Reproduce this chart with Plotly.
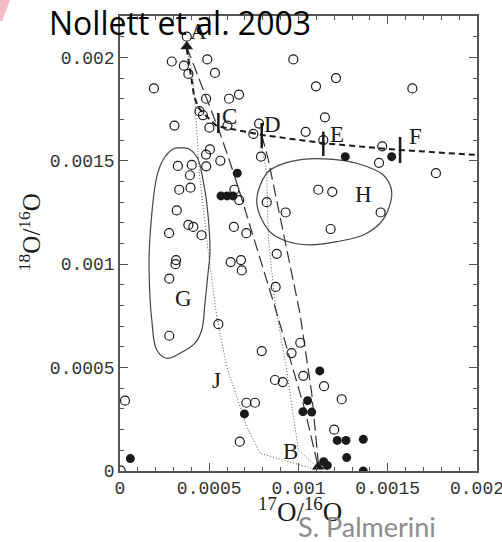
import plotly.graph_objects as go

# --- grain measurements: 17O/16O (x) and 18O/16O (y) ---
open_x = [0.000374, 0.000290, 0.000489, 0.000358, 0.000383, 0.000532, 0.000190, 0.000482,
          0.000611, 0.000667, 0.000445, 0.000465, 0.000305, 0.000501, 0.000602, 0.000747,
          0.000504, 0.000482, 0.000562, 0.000324, 0.000402, 0.000483, 0.000392, 0.000332,
          0.000395, 0.000641, 0.000668, 0.000318, 0.000383, 0.000411, 0.000275, 0.000457,
          0.000638, 0.000708, 0.000314, 0.000311, 0.000276, 0.000620, 0.000678, 0.000682,
          0.000551, 0.000276, 0.000028, 0.000708, 0.000756, 0.000671, 0.000971, 0.001098,
          0.001210, 0.001638, 0.001148, 0.000779, 0.001040, 0.001139, 0.001469, 0.000790,
          0.001451, 0.001770, 0.001111, 0.001189, 0.001460, 0.001180, 0.000822, 0.000928,
          0.000878, 0.000872, 0.001010, 0.000961, 0.000794, 0.000868, 0.000912, 0.001027,
          0.001143, 0.001242, 0.001200, 0.000004]
open_y = [0.00210, 0.00198, 0.00199, 0.00196, 0.00192, 0.001925, 0.00185, 0.00180,
          0.00180, 0.00182, 0.00174, 0.00172, 0.00167, 0.00166, 0.00167, 0.00163,
          0.001555, 0.00153, 0.00150, 0.001475, 0.00148, 0.001473, 0.00143, 0.00136,
          0.00137, 0.00136, 0.00131, 0.00126, 0.00119, 0.00118, 0.00115, 0.00114,
          0.00118, 0.00115, 0.00102, 0.00100, 0.00093, 0.00101, 0.00102, 0.00097,
          0.00071, 0.000654, 0.00034, 0.00033, 0.00033, 0.000142, 0.00199, 0.00186,
          0.00190, 0.00185, 0.00171, 0.00168, 0.00164, 0.00160, 0.00157, 0.00152,
          0.00149, 0.00144, 0.00136, 0.00135, 0.00125, 0.00117, 0.00130, 0.00125,
          0.00105, 0.00089, 0.00062, 0.00057, 0.00058, 0.00044, 0.00043, 0.00046,
          0.00041, 0.000347, 0.00020, 0.000002]

filled_x = [0.000657, 0.000566, 0.000600, 0.000633, 0.001262, 0.001522, 0.000697, 0.000058,
            0.001119, 0.001051, 0.001025, 0.001074, 0.001217, 0.001266, 0.001363, 0.001270,
            0.001141, 0.001161, 0.001363]
filled_y = [0.00144, 0.00133, 0.00133, 0.00133, 0.00152, 0.00152, 0.000276, 0.000060,
            0.000484, 0.00034, 0.000287, 0.000285, 0.000148, 0.000148, 0.000153, 0.000065,
            0.000045, 0.000027, 0.000000]

# end points of the model paths
tri_x = [0.000374, 0.001110]
tri_y = [0.002052, 0.000020]

# envelope mixing path A -> C -> D -> E -> F
mix_x = [0.000374, 0.000402, 0.000415, 0.000439, 0.000482, 0.000542, 0.000794, 0.001139, 0.001569, 0.002000]
mix_y = [0.002041, 0.001870, 0.001813, 0.001757, 0.001717, 0.001668, 0.001625, 0.001585, 0.001552, 0.001528]

# marks on the mixing path (x, y_low, y_high)
mark_x = [0.000551, 0.000794, 0.001139, 0.001569]
mark_lo = [0.001634, 0.001562, 0.001523, 0.001489]
mark_hi = [0.001731, 0.001683, 0.001641, 0.001615]

# processing paths towards B
lda_x = [0.000374, 0.000482, 0.000560, 0.000616, 0.000672, 0.000868, 0.001036, 0.001109]
lda_y = [0.002050, 0.001804, 0.001634, 0.001494, 0.001344, 0.000793, 0.000295, 0.000024]
ldb_x = [0.000794, 0.000831, 0.001008, 0.001074, 0.001111]
ldb_y = [0.001625, 0.001504, 0.000763, 0.000377, 0.000039]
dot_j_x = [0.000374, 0.000409, 0.000431, 0.000444, 0.000495, 0.000542, 0.000598, 0.000710, 0.000784, 0.001104]
dot_j_y = [0.002050, 0.001905, 0.001634, 0.001441, 0.001054, 0.000746, 0.000504, 0.000214, 0.000086, 0.000005]
dot_d_x = [0.000794, 0.000822, 0.000831, 0.000868, 0.000934, 0.000999, 0.001104]
dot_d_y = [0.001562, 0.001441, 0.001132, 0.000812, 0.000488, 0.000102, 0.000019]

# grain group outlines
g_x = [0.000465, 0.000448, 0.000430, 0.000381, 0.000336, 0.000297, 0.000241, 0.000206, 0.000168,
       0.000163, 0.000178, 0.000206, 0.000262, 0.000336, 0.000420, 0.000458, 0.000476, 0.000495,
       0.000504, 0.000486, 0.000465]
g_y = [0.001407, 0.001480, 0.001520, 0.001559, 0.001562, 0.001557, 0.001504, 0.001422, 0.001132,
       0.000972, 0.000730, 0.000585, 0.000545, 0.000569, 0.000618, 0.000682, 0.000812, 0.000972,
       0.001054, 0.001296, 0.001407]
h_x = [0.000822, 0.000896, 0.001025, 0.001193, 0.001326, 0.001475, 0.001522, 0.001494, 0.001457,
       0.001363, 0.001214, 0.001064, 0.000915, 0.000831, 0.000766, 0.000822]
h_y = [0.001440, 0.001480, 0.001507, 0.001507, 0.001488, 0.001431, 0.001351, 0.001246, 0.001198,
       0.001141, 0.001109, 0.001093, 0.001117, 0.001165, 0.001302, 0.001440]

# letter labels
lab_text = ["A", "B", "C", "D", "E", "F", "G", "H", "J"]
lab_x = [0.000440, 0.000956, 0.000612, 0.000855, 0.001217, 0.001653, 0.000355, 0.001363, 0.000538]
lab_y = [0.002124, 0.000093, 0.001713, 0.001673, 0.001625, 0.001617, 0.000835, 0.001335, 0.000440]

INK = "#1a1a1a"
fig = go.Figure()

for xs, ys in [(g_x, g_y), (h_x, h_y)]:
    fig.add_trace(go.Scatter(x=xs, y=ys, mode="lines",
                             line=dict(color="#444", width=1.2, shape="spline", smoothing=1.0),
                             hoverinfo="skip"))

fig.add_trace(go.Scatter(x=dot_j_x, y=dot_j_y, mode="lines",
                         line=dict(color="#555", width=1, dash="1px,2px")))
fig.add_trace(go.Scatter(x=dot_d_x, y=dot_d_y, mode="lines",
                         line=dict(color="#555", width=1, dash="1px,2px")))
fig.add_trace(go.Scatter(x=lda_x, y=lda_y, mode="lines",
                         line=dict(color="#333", width=1.2, dash="12px,5px")))
fig.add_trace(go.Scatter(x=ldb_x, y=ldb_y, mode="lines",
                         line=dict(color="#333", width=1.2, dash="12px,5px")))
fig.add_trace(go.Scatter(x=mix_x, y=mix_y, mode="lines",
                         line=dict(color=INK, width=2, dash="6px,4px")))

for mx, lo, hi in zip(mark_x, mark_lo, mark_hi):
    fig.add_trace(go.Scatter(x=[mx, mx], y=[lo, hi], mode="lines",
                             line=dict(color=INK, width=2.5)))

fig.add_trace(go.Scatter(x=open_x, y=open_y, mode="markers",
                         marker=dict(symbol="circle-open", size=9, color=INK,
                                     line=dict(width=1.2, color=INK))))
fig.add_trace(go.Scatter(x=filled_x, y=filled_y, mode="markers",
                         marker=dict(symbol="circle", size=9, color=INK)))
fig.add_trace(go.Scatter(x=tri_x, y=tri_y, mode="markers", cliponaxis=False,
                         marker=dict(symbol="triangle-up", size=11, color=INK)))

for t, x, y in zip(lab_text, lab_x, lab_y):
    fig.add_annotation(x=x, y=y, text=t, showarrow=False,
                       font=dict(family="Liberation Serif", size=23, color=INK))

# axis titles
fig.add_annotation(xref="paper", yref="paper", x=0.504, y=-0.086,
                   xanchor="center", yanchor="middle",
                   text="<sup>17</sup>O/<sup>16</sup>O", showarrow=False,
                   font=dict(family="Liberation Serif", size=27, color=INK))
fig.add_annotation(xref="paper", yref="paper", x=-0.252, y=0.525, textangle=-90,
                   xanchor="center", yanchor="middle",
                   text="<sup>18</sup>O/<sup>16</sup>O", showarrow=False,
                   font=dict(family="Liberation Serif", size=25, color=INK))

# headline and credit
fig.add_annotation(xref="paper", yref="paper", x=-0.2045, y=0.985,
                   xanchor="left", yanchor="middle",
                   text="Nollett et al. 2003", showarrow=False,
                   font=dict(family="Open Sans", size=32, color="black"))
fig.add_annotation(xref="paper", yref="paper", x=0.493, y=-0.123,
                   xanchor="left", yanchor="middle",
                   text="S. Palmerini", showarrow=False,
                   font=dict(family="Lato", size=27, color="#8c8c8c"))

# small pink corner accent
fig.add_shape(type="path", xref="paper", yref="paper", layer="above",
              path="M -0.3362 1.0352 L -0.3080 1.0352 L -0.3300 0.9890 L -0.3362 0.9890 Z",
              fillcolor="#f3bcc6", line=dict(width=0))

axis_common = dict(
    showgrid=False, zeroline=False, showline=True, linecolor="#555", linewidth=1.5,
    mirror="allticks", ticks="inside", ticklen=8, tickwidth=1.2, tickcolor="#555",
    tickmode="linear", tick0=0, dtick=0.0005, tickformat=".4~f",
    ticklabeloverflow="allow", automargin=False,
    tickfont=dict(family="Liberation Mono", size=18, color="#333"),
    minor=dict(ticks="inside", ticklen=4, tickwidth=1, tickcolor="#555", dtick=0.0001),
)
fig.update_xaxes(range=[0, 0.002], **axis_common)
fig.update_yaxes(range=[0, 0.0022], **axis_common)

fig.update_layout(
    width=502, height=542, showlegend=False,
    margin=dict(l=120, r=25, t=16, b=71),
    plot_bgcolor="white", paper_bgcolor="white",
)

fig.write_html("out.html")
